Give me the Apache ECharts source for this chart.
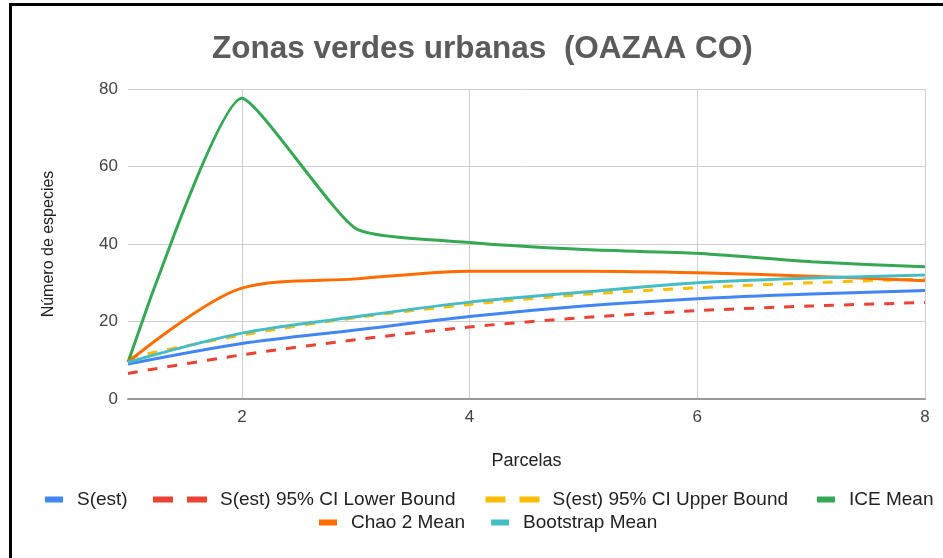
<!DOCTYPE html>
<html>
<head>
<meta charset="utf-8">
<script src="https://cdn.jsdelivr.net/npm/echarts@6/dist/echarts.min.js"></script>
<style>
  html, body { margin: 0; padding: 0; background: #fff; }
  #chart { width: 943px; height: 558px; }
</style>
</head>
<body>
<div id="chart"></div>
<script>
// data
var parcelas = [1, 2, 3, 4, 5, 6, 7, 8]
var xTickLabels = [2, 4, 6, 8]
var sEst = [9, 14.3, 17.8, 21.3, 24, 25.9, 27.1, 28]
var lowerBound = [6.6, 11.4, 15.3, 18.6, 21, 22.8, 24, 24.9]
var upperBound = [10.6, 16.5, 21, 24.4, 27, 28.7, 30, 31]
var iceMean = [9.5, 77.6, 44, 40.4, 38.6, 37.6, 35.4, 34.1]
var chaoMean = [9.5, 28.6, 31, 33, 33, 32.6, 31.7, 30.5]
var bootMean = [9.5, 17, 21.2, 25, 27.6, 30, 31.2, 32]

var FONT = 'Liberation Sans, Arial, sans-serif'
// icons drawn inside a wider box so the text sits a bit further away
var solidIcon = 'path://M0,0h18v6h-18z'
var dashIcon = 'path://M0,0h20v6h-20zM34,0h20v6h-20z'

function pairs(ys) {
  return parcelas.map(function (x, i) { return [x, ys[i]] })
}

function line(name, ys, color, dashed, smooth) {
  return {
    name: name,
    type: 'line',
    smooth: smooth || 0.3,
    showSymbol: false,
    data: pairs(ys),
    lineStyle: { color: color, width: 3, type: dashed ? [10, 10] : 'solid' },
    itemStyle: { color: color },
  }
}

var legendBase = {
  orient: 'horizontal',
  itemHeight: 6,
  textStyle: { fontFamily: FONT, fontSize: 19, color: '#222' },
  itemStyle: { borderWidth: 0 },
  symbolKeepAspect: true,
}

var myChart = echarts.init(document.getElementById('chart'))

var option = {
  animation: false,
  backgroundColor: '#fff',
  title: {
    text: 'Zonas verdes urbanas  (OAZAA CO)',
    left: 207,
    top: 28,
    textStyle: { fontFamily: FONT, fontSize: 31.5, fontWeight: 'bold', color: '#5b5b5b' },
  },
  graphic: [
    { type: 'rect', shape: { x: 9, y: 3, width: 934, height: 3 }, style: { fill: '#000' } },
    { type: 'rect', shape: { x: 9, y: 3, width: 3, height: 555 }, style: { fill: '#000' } },
  ],
  grid: { left: 128, right: 18, top: 89, bottom: 159, containLabel: false },
  legend: [
    Object.assign({}, legendBase, {
      data: [{ name: 'S(est)', icon: solidIcon }],
      left: 40, top: 485, itemWidth: 36,
    }),
    Object.assign({}, legendBase, {
      data: [
        { name: 'S(est) 95% CI Lower Bound', icon: dashIcon },
        { name: 'S(est) 95% CI Upper Bound', icon: dashIcon },
      ],
      left: 148, top: 485, itemWidth: 70, itemGap: 30,
    }),
    Object.assign({}, legendBase, {
      data: [{ name: 'ICE Mean', icon: solidIcon }],
      left: 812, top: 485, itemWidth: 36,
    }),
    Object.assign({}, legendBase, {
      data: [
        { name: 'Chao 2 Mean', icon: solidIcon },
        { name: 'Bootstrap Mean', icon: solidIcon },
      ],
      left: 314, top: 508, itemWidth: 36, itemGap: 26,
    }),
  ],
  xAxis: {
    type: 'value',
    min: 1,
    max: 8,
    interval: 1,
    name: 'Parcelas',
    nameLocation: 'middle',
    nameGap: 53,
    nameTextStyle: { fontFamily: FONT, fontSize: 18, color: '#222' },
    axisLine: { lineStyle: { color: '#999', width: 2 } },
    axisTick: { show: false },
    axisLabel: {
      fontFamily: FONT, fontSize: 17, color: '#444', margin: 10,
      formatter: function (v) { return xTickLabels.indexOf(v) >= 0 ? String(v) : '' },
    },
    splitLine: { show: true, lineStyle: { color: ['transparent', '#cfcfcf'], width: 1 } },
  },
  yAxis: {
    type: 'value',
    min: 0,
    max: 80,
    interval: 20,
    name: 'Número de especies',
    nameLocation: 'middle',
    nameGap: 71,
    nameTextStyle: { fontFamily: FONT, fontSize: 16, color: '#222' },
    axisLine: { show: false },
    axisTick: { show: false },
    axisLabel: { fontFamily: FONT, fontSize: 17, color: '#444', margin: 10 },
    splitLine: { lineStyle: { color: '#cfcfcf', width: 1 } },
  },
  series: [
    line('S(est)', sEst, '#4285f4', false),
    line('S(est) 95% CI Lower Bound', lowerBound, '#ea4335', true),
    line('S(est) 95% CI Upper Bound', upperBound, '#fbbc04', true),
    line('ICE Mean', iceMean, '#34a853', false, 0.17),
    line('Chao 2 Mean', chaoMean, '#ff6d01', false),
    line('Bootstrap Mean', bootMean, '#46bdc6', false),
  ],
}

myChart.setOption(option)
</script>
</body>
</html>
